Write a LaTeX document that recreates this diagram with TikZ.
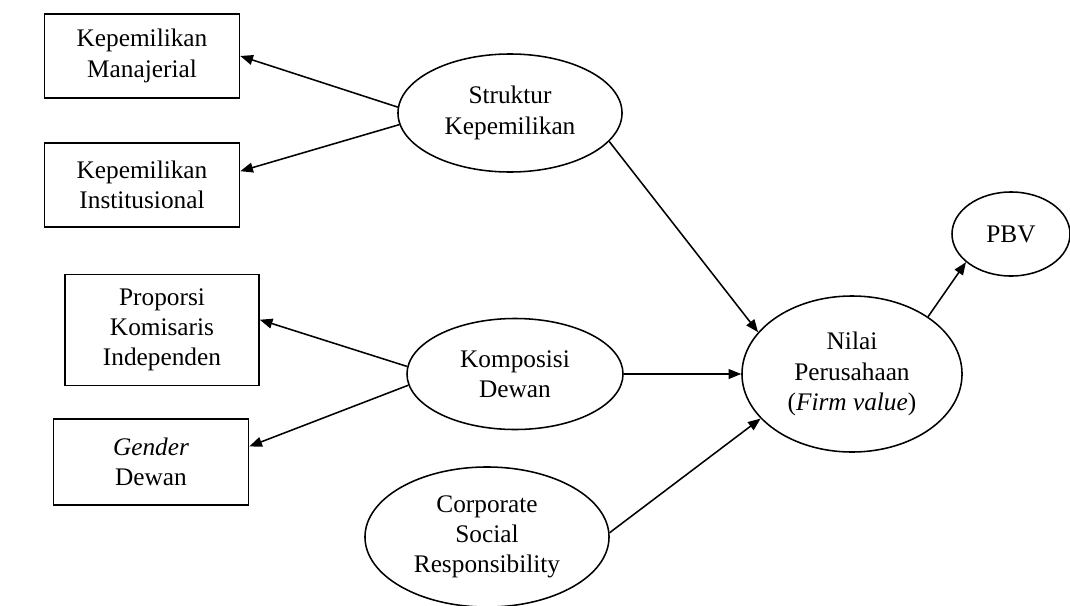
\documentclass[tikz,border=0pt]{standalone}
\usepackage{fontspec}
\setmainfont{Liberation Serif}
\usetikzlibrary{shapes.geometric,arrows.meta}
\begin{document}
\begin{tikzpicture}[x=0.025cm,y=-0.025cm,font=\fontsize{18}{21.5}\selectfont,line width=1.1pt,
 box/.style={draw,rectangle,align=center,minimum width=4.875cm,inner sep=0pt},
 latent/.style={draw,ellipse,align=center,inner sep=0pt},
 arr/.style={-{Triangle[length=9pt,width=7pt]}}]
 \useasboundingbox (0,0) rectangle (1070,605);
 % indicators (boxes)
 \node[box,minimum height=2.1cm] (km) at (142,56) {Kepemilikan\\Manajerial};
 \node[box,minimum height=2.1cm] (ki) at (142,185) {Kepemilikan\\Institusional};
 \node[box,minimum width=4.85cm,minimum height=2.775cm] (pki) at (162,330) {Proporsi\\Komisaris\\Independen};
 \node[box,minimum height=2.15cm] (gd) at (151,462) {\textit{Gender}\\Dewan};
 % constructs (ellipses)
 \node[latent,minimum width=5.6cm,minimum height=2.95cm] (sk) at (510,113) {Struktur\\Kepemilikan};
 \node[latent,minimum width=5.4cm,minimum height=2.775cm] (kd) at (515,374) {Komposisi\\Dewan};
 \node[latent,minimum width=6.1cm,minimum height=3.5cm] (csr) at (487,537) {Corporate\\Social\\Responsibility};
 \node[latent,minimum width=5.5cm,minimum height=3.9cm] (nilai) at (852,374) {Nilai\\Perusahaan\\(\textit{Firm value})};
 \node[latent,minimum width=2.95cm,minimum height=2.1cm] (pbv) at (1011,234) {PBV};
 % paths
 \draw[arr] (sk.177) -- (km.east);
 \draw[arr] (sk.186) -- (ki.8);
 \draw[arr] (sk.-16) -- (nilai.156);
 \draw[arr] (kd.176) -- (pki.6);
 \draw[arr] (kd.186) -- (gd.9);
 \draw[arr] (kd.east) -- (nilai.west);
 \draw[arr] (csr.2) -- (nilai.206);
 \draw[arr] (nilai.37) -- (pbv.212);
\end{tikzpicture}
\end{document}
